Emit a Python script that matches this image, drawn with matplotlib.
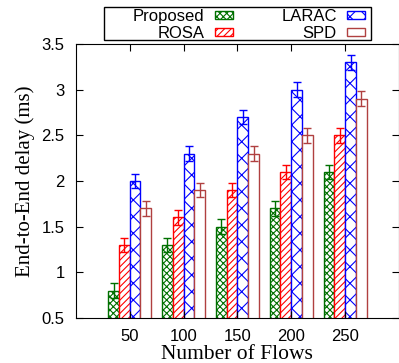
import matplotlib.pyplot as plt
import matplotlib.patches as mpatches
import numpy as np

plt.rcParams['hatch.linewidth'] = 0.8

flows = ['50', '100', '150', '200', '250']
proposed = [0.8, 1.3, 1.5, 1.7, 2.1]
rosa = [1.3, 1.6, 1.9, 2.1, 2.5]
larac = [2.0, 2.3, 2.7, 3.0, 3.3]
spd = [1.7, 1.9, 2.3, 2.5, 2.9]
err = [0.08, 0.08, 0.08, 0.08, 0.08]

series = [
    ('Proposed', proposed, '#007000', 'xxxxx'),
    ('ROSA', rosa, '#ff0000', '/////'),
    ('LARAC', larac, '#0000ff', 'xx'),
    ('SPD', spd, '#b04040', ''),
]

fig = plt.figure(figsize=(3.99, 3.63), dpi=100)
ax = fig.add_axes([0.19, 0.124, 0.81, 0.755])

x = np.arange(1, len(flows) + 1)
w = 0.2
offsets = [-0.3, -0.1, 0.1, 0.3]
for (name, vals, col, hatch), off in zip(series, offsets):
    ax.bar(x + off, vals, w, bottom=0, facecolor='white', edgecolor=col,
           hatch=hatch, linewidth=1.0, label=name,
           yerr=err, ecolor=col, capsize=3, error_kw={'elinewidth': 1.0, 'capthick': 1.0})

ax.set_xlim(0, 6)
ax.set_ylim(0.5, 3.5)
ax.set_xticks(x)
ax.set_xticklabels(flows)
ax.set_yticks([0.5, 1, 1.5, 2, 2.5, 3, 3.5])
ax.set_yticklabels(['0.5', '1', '1.5', '2', '2.5', '3', '3.5'])
ax.tick_params(direction='in', top=True, right=True, length=5, labelsize=12, pad=8)
for lab in ax.get_xticklabels() + ax.get_yticklabels():
    lab.set_fontfamily('Liberation Sans')

ax.set_xlabel('Number of Flows', family='Liberation Serif', fontsize=15.5, labelpad=1)
ax.set_ylabel('End-to-End delay (ms)', family='Liberation Serif', fontsize=15, labelpad=5)

# legend box drawn separately (wider on the left, like gnuplot)
box = mpatches.Rectangle((104 / 399, 1 - 40 / 363), (371 - 104) / 399, 33 / 363,
                         transform=fig.transFigure, facecolor='white',
                         edgecolor='black', linewidth=1.0)
fig.patches.append(box)

leg = fig.legend(loc='upper left', bbox_to_anchor=(133 / 399, 1 - 9 / 363), ncol=2,
                 markerfirst=False, frameon=False, borderaxespad=0, borderpad=0,
                 prop={'family': 'Liberation Sans', 'size': 12}, handlelength=1.1,
                 handleheight=0.4, columnspacing=2.9, labelspacing=0.1,
                 handletextpad=0.6)

fig.savefig('out.png', dpi=100)
